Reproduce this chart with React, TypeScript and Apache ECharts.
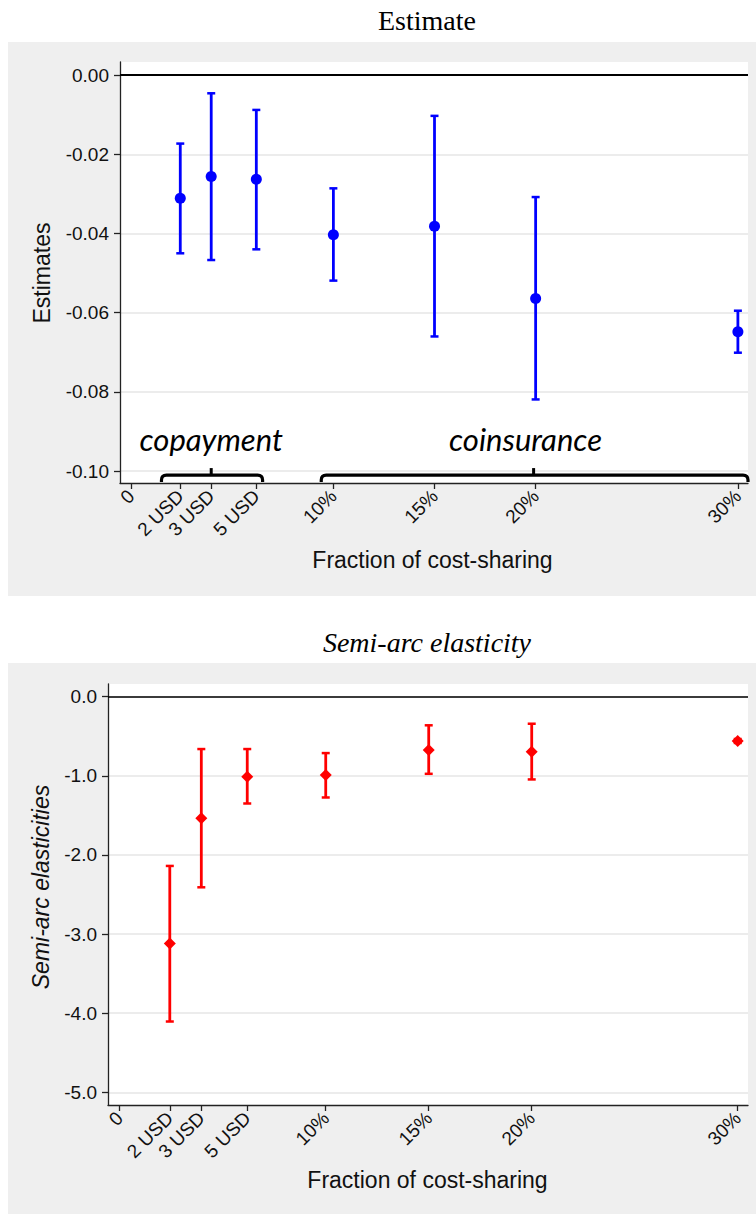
import React, { useEffect, useRef } from "react";
import * as echarts from "echarts";

// ---- data ----
const xLabels = ["0", "2 USD", "3 USD", "5 USD", "10%", "15%", "20%", "30%"];
const xTickPos = [0, 2.43, 3.96, 6.19, 10, 15, 20, 30];
const pointPos = [2.43, 3.96, 6.19, 10, 15, 20, 30];

const estimates = [-0.0311, -0.0256, -0.0263, -0.0403, -0.0382, -0.0564, -0.0648];
const estUpper = [-0.0173, -0.0046, -0.0088, -0.0286, -0.0103, -0.0308, -0.0595];
const estLower = [-0.045, -0.0467, -0.044, -0.0519, -0.066, -0.0819, -0.0701];

const elasticities = [-3.118, -1.535, -1.013, -0.991, -0.675, -0.696, -0.561];
const elasUpper = [-2.139, -0.662, -0.662, -0.713, -0.362, -0.342, -0.535];
const elasLower = [-4.105, -2.409, -1.35, -1.274, -0.975, -1.046, -0.585];

const estTicks = [0, -0.02, -0.04, -0.06, -0.08, -0.1];
const elasTicks = [0, -1, -2, -3, -4, -5];

const groupNames = ["copayment", "coinsurance"];
const groupStart = [1.5, 9.4];
const groupEnd = [6.5, 30.5];
const groupMid = [3.96, 19.9];
const groupLabelAt = [3.96, 19.5];

const SANS = "'Liberation Sans', Arial, sans-serif";
const SERIF = "'Liberation Serif', 'Times New Roman', serif";

function xLabelFor(v: number) {
  for (let i = 0; i < xTickPos.length; i++) {
    if (Math.abs(xTickPos[i] - v) < 1e-6) return xLabels[i];
  }
  return "";
}

function errorBarRender(color: string) {
  return (params: any, api: any) => {
    const x = api.value(0);
    const lo = api.value(1);
    const hi = api.value(2);
    const p1 = api.coord([x, hi]);
    const p2 = api.coord([x, lo]);
    const cw = 4;
    return {
      type: "group",
      children: [
        { type: "line", shape: { x1: p1[0], y1: p1[1], x2: p2[0], y2: p2[1] }, style: { stroke: color, lineWidth: 2.8 } },
        { type: "line", shape: { x1: p1[0] - cw, y1: p1[1], x2: p1[0] + cw, y2: p1[1] }, style: { stroke: color, lineWidth: 2.5 } },
        { type: "line", shape: { x1: p2[0] - cw, y1: p2[1], x2: p2[0] + cw, y2: p2[1] }, style: { stroke: color, lineWidth: 2.5 } },
      ],
    };
  };
}

export default function App() {
  const ref = useRef<HTMLDivElement>(null);

  useEffect(() => {
    if (!ref.current) return;
    const chart = echarts.init(ref.current, undefined, { renderer: "svg" });

    const estBars = pointPos.map((x, i) => [x, estLower[i], estUpper[i]]);
    const elasBars = pointPos.map((x, i) => [x, elasLower[i], elasUpper[i]]);
    const estPts = pointPos.map((x, i) => [x, estimates[i]]);
    const elasPts = pointPos.map((x, i) => [x, elasticities[i]]);
    const groups = groupNames.map((n, i) => [groupStart[i], groupEnd[i], groupMid[i], groupLabelAt[i], i]);

    const axisColor = "#222";
    const gridColor = "#e6e6e6";

    const xAxisBase = (min: number, max: number, gridIndex: number) => ({
      type: "value",
      gridIndex,
      min,
      max,
      axisLine: { show: true, onZero: false, lineStyle: { color: axisColor, width: 1.3 } },
      axisTick: { show: true, customValues: xTickPos, length: 6, lineStyle: { color: axisColor, width: 1.3 } },
      axisLabel: {
        customValues: xTickPos,
        formatter: (v: number) => xLabelFor(v),
        rotate: 45,
        margin: 10,
        fontFamily: SANS,
        fontSize: 19,
        color: "#111",
      },
      splitLine: { show: false },
    });

    const yAxisBase = (min: number, max: number, gridIndex: number, ticks: number[], digits: number) => ({
      type: "value",
      gridIndex,
      min,
      max,
      axisLine: { show: true, onZero: false, lineStyle: { color: axisColor, width: 1.3 } },
      axisTick: { show: true, customValues: ticks, length: 6, lineStyle: { color: axisColor, width: 1.3 } },
      axisLabel: {
        customValues: ticks,
        formatter: (v: number) => (Math.abs(v) < 1e-9 ? (0).toFixed(digits) : v.toFixed(digits)),
        margin: 11,
        fontFamily: SANS,
        fontSize: 19,
        color: "#111",
      },
      splitLine: { show: true, lineStyle: { color: gridColor, width: 1.5 } },
    });

    const center = { align: "center", verticalAlign: "middle", textAlign: "center", textVerticalAlign: "middle" };

    const option: any = {
      animation: false,
      graphic: [
        { type: "rect", z: -10, shape: { x: 8, y: 42, width: 748, height: 554 }, style: { fill: "#efefef" } },
        { type: "rect", z: -10, shape: { x: 8, y: 663, width: 748, height: 551 }, style: { fill: "#efefef" } },
        { type: "rect", z: -9, shape: { x: 120, y: 62, width: 628, height: 421 }, style: { fill: "#fff" } },
        { type: "rect", z: -9, shape: { x: 108, y: 684, width: 640, height: 421 }, style: { fill: "#fff" } },
        { type: "text", x: 427, y: 20, style: { text: "Estimate", font: `28px ${SERIF}`, fill: "#000", ...center } },
        { type: "text", x: 427, y: 642, style: { text: "Semi-arc elasticity", font: `italic 28px ${SERIF}`, fill: "#000", ...center } },
        { type: "text", x: 432.5, y: 560, style: { text: "Fraction of cost-sharing", font: `23px ${SANS}`, fill: "#111", ...center } },
        { type: "text", x: 427.5, y: 1180, style: { text: "Fraction of cost-sharing", font: `23px ${SANS}`, fill: "#111", ...center } },
        { type: "text", x: 41.5, y: 273, rotation: Math.PI / 2, style: { text: "Estimates", font: `23px ${SANS}`, fill: "#111", ...center } },
        { type: "text", x: 41, y: 887, rotation: Math.PI / 2, style: { text: "Semi-arc elasticities", font: `italic 23px ${SANS}`, fill: "#111", ...center } },
      ],
      grid: [
        { left: 120, top: 62, width: 628, height: 421, show: false },
        { left: 108, top: 684, width: 640, height: 421, show: false },
      ],
      xAxis: [xAxisBase(-0.55, 30.5, 0), xAxisBase(-0.57, 30.5, 1)],
      yAxis: [yAxisBase(-0.103, 0.0033, 0, estTicks, 2), yAxisBase(-5.16, 0.16, 1, elasTicks, 1)],
      series: [
        {
          type: "custom",
          xAxisIndex: 0,
          yAxisIndex: 0,
          z: 3,
          clip: false,
          renderItem: errorBarRender("#0000ff"),
          encode: { x: 0, y: [1, 2] },
          data: estBars,
        },
        {
          type: "scatter",
          xAxisIndex: 0,
          yAxisIndex: 0,
          z: 5,
          symbol: "circle",
          symbolSize: 11,
          itemStyle: { color: "#0000ff", opacity: 1 },
          data: estPts,
          markLine: {
            silent: true,
            symbol: "none",
            label: { show: false },
            lineStyle: { color: "#000", width: 2, type: "solid" },
            data: [{ yAxis: 0 }],
          },
        },
        {
          type: "custom",
          xAxisIndex: 0,
          yAxisIndex: 0,
          z: 6,
          clip: false,
          data: groups,
          encode: { x: [0, 1] },
          renderItem: (params: any, api: any) => {
            const x0 = api.value(0);
            const x1 = api.value(1);
            const xm = api.value(2);
            const xl = api.value(3);
            const idx = api.value(4);
            const a = api.coord([x0, -0.101]);
            const b = api.coord([x1, -0.101]);
            const m = api.coord([xm, -0.101]);
            const base = api.coord([x0, -0.103]);
            const lbl = api.coord([xl, -0.0918]);
            const yl = a[1];
            const yb = base[1] - 1;
            const r = 5;
            const d = `M${a[0]} ${yb} L${a[0]} ${yl + r} Q${a[0]} ${yl} ${a[0] + r} ${yl} L${b[0] - r} ${yl} Q${b[0]} ${yl} ${b[0]} ${yl + r} L${b[0]} ${yb}`;
            return {
              type: "group",
              children: [
                { type: "path", shape: { pathData: d }, style: { stroke: "#000", fill: "none", lineWidth: 3.2 } },
                { type: "line", shape: { x1: m[0], y1: yl, x2: m[0], y2: yl - 7 }, style: { stroke: "#000", lineWidth: 3 } },
                {
                  type: "text",
                  x: lbl[0],
                  y: lbl[1],
                  style: {
                    text: groupNames[idx],
                    font: `italic 31px Lato, 'Open Sans', sans-serif`,
                    fill: "#000",
                    align: "center",
                    verticalAlign: "middle",
                  },
                },
              ],
            };
          },
        },
        {
          type: "custom",
          xAxisIndex: 1,
          yAxisIndex: 1,
          z: 3,
          clip: false,
          renderItem: errorBarRender("#ff0000"),
          encode: { x: 0, y: [1, 2] },
          data: elasBars,
        },
        {
          type: "scatter",
          xAxisIndex: 1,
          yAxisIndex: 1,
          z: 5,
          symbol: "diamond",
          symbolSize: 12,
          itemStyle: { color: "#ff0000", opacity: 1 },
          data: elasPts,
          markLine: {
            silent: true,
            symbol: "none",
            label: { show: false },
            lineStyle: { color: "#000", width: 1.6, type: "solid" },
            data: [{ yAxis: 0 }],
          },
        },
      ],
    };

    chart.setOption(option);
    return () => chart.dispose();
  }, []);

  return <div ref={ref} style={{ position: "absolute", left: 0, top: 0, width: 756, height: 1214 }} />;
}
